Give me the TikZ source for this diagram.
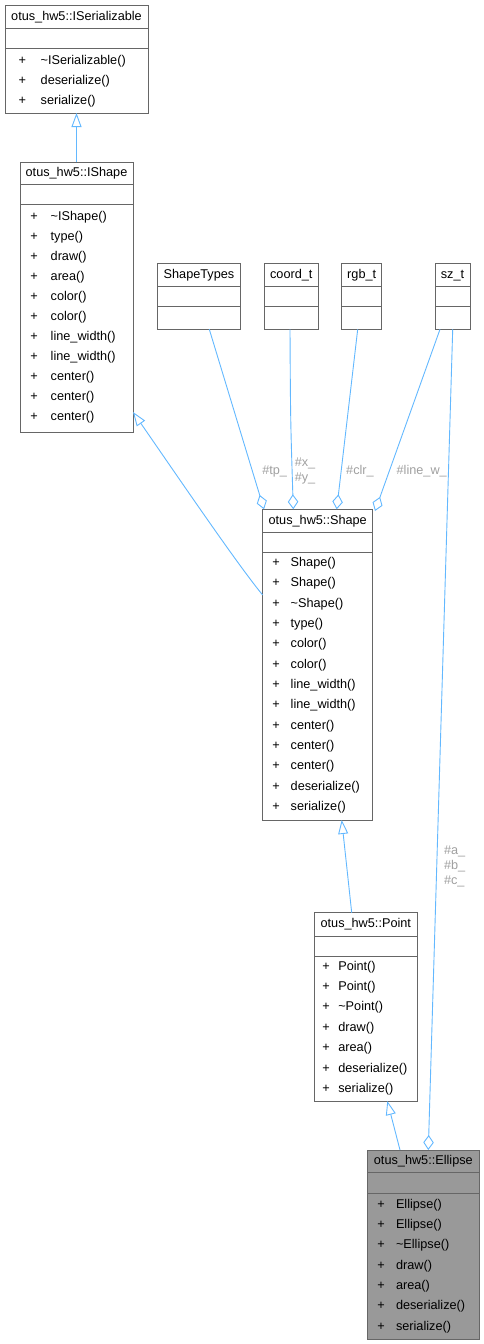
\documentclass[tikz,border=0pt]{standalone}
\usepackage{fontspec}
\setmainfont{Liberation Sans}
\usetikzlibrary{arrows.meta,calc}
\definecolor{edgeblue}{HTML}{63B8FF}
\definecolor{boxgray}{HTML}{666666}
\definecolor{labgray}{HTML}{A0A0A0}
\definecolor{fillgray}{HTML}{999999}
\tikzset{
  classbox/.style={draw=boxgray, line width=1pt, rectangle, inner sep=0pt, outer sep=0pt},
  boxline/.style={draw=boxgray, line width=1pt},
  txt/.style={inner sep=0pt, outer sep=0pt, font=\fontsize{12.7}{14}\selectfont, text height=9.3pt, text depth=2.6pt},
  elabel/.style={inner sep=0pt, outer sep=0pt, font=\fontsize{12.7}{15.3}\selectfont, text=labgray},
  inh/.style={draw=edgeblue, line width=0.9pt, -{Triangle[length=14pt,width=10pt,fill=white]}},
  agg/.style={draw=edgeblue, line width=0.9pt, -{Diamond[length=15pt,width=10.5pt,fill=white]}},
}
% #1 name, #2 left, #3 right, #4 top, #5 title bottom, #6 empty bottom, #7 bottom, #8 title, #9 extra style
\newcommand\ClassBox[9]{%
  \node[classbox, #9, minimum width={(#3)-(#2)}, minimum height={(#7)-(#4)}] (#1) at ({((#2)+(#3))/2},{((#4)+(#7))/2}) {};
  \draw[boxline] (#2,#5) -- (#3,#5) (#2,#6) -- (#3,#6);
  \node[txt] (#1-title) at ({((#2)+(#3))/2},{((#4)+(#5))/2}) {#8};
}
% #1 name, #2 plus x, #3 text x, #4 first y, #5 spacing, #6 list
\newcommand\Members[6]{%
  \foreach \mtext [count=\mi from 0] in {#6} {
    \node[txt] (#1-p\mi) at (#2,{(#4)+\mi*(#5)}) {+};
    \node[txt, anchor=west] (#1-m\mi) at (#3,{(#4)+\mi*(#5)}) {\mtext};
  }%
}
\begin{document}
\begin{tikzpicture}[x=1pt,y=-1pt]
\useasboundingbox (0,0) rectangle (484,1344);
% ISerializable
\ClassBox{iser}{5}{148}{5}{28.5}{48.5}{113}{otus\_hw5::ISerializable}{fill=white}
\Members{iser}{22.3}{40.7}{61}{20}{\textasciitilde ISerializable(),deserialize(),serialize()}
% IShape
\ClassBox{ishape}{20}{133}{162}{184}{204}{432}{otus\_hw5::IShape}{fill=white}
\Members{ishape}{34}{50.7}{217}{20}{\textasciitilde IShape(),type(),draw(),area(),color(),color(),line\_width(),line\_width(),center(),center(),center()}
% small type boxes
\ClassBox{stypes}{157.3}{240.7}{263.3}{286.7}{306.7}{329.3}{ShapeTypes}{fill=white}
\ClassBox{coord}{264.3}{318.3}{263.3}{286.7}{306.7}{329.3}{coord\_t}{fill=white}
\ClassBox{rgb}{341.7}{381.7}{263.3}{286.7}{306.7}{329.3}{rgb\_t}{fill=white}
\ClassBox{sz}{435}{470}{263.3}{286.7}{306.7}{329.3}{sz\_t}{fill=white}
% Shape
\ClassBox{shape}{262.7}{372.7}{509.3}{532.3}{552.3}{820}{otus\_hw5::Shape}{fill=white}
\Members{shape}{276}{290.7}{563.3}{20.33}{Shape(),Shape(),\textasciitilde Shape(),type(),color(),color(),line\_width(),line\_width(),center(),center(),center(),deserialize(),serialize()}
% Point
\ClassBox{point}{314.3}{417.3}{912.7}{936}{956}{1101}{otus\_hw5::Point}{fill=white}
\Members{point}{326}{338.3}{966.7}{20.43}{Point(),Point(),\textasciitilde Point(),draw(),area(),deserialize(),serialize()}
% Ellipse
\ClassBox{ellipse}{367.7}{479}{1150}{1172.7}{1193.3}{1339.3}{otus\_hw5::Ellipse}{fill=fillgray}
\Members{ellipse}{381}{396}{1205}{20.3}{Ellipse(),Ellipse(),\textasciitilde Ellipse(),draw(),area(),deserialize(),serialize()}

% inheritance edges
\draw[inh] (ishape.north) -- (iser.south);
\draw[inh] (shape.west |- 0,595) .. controls (240,568) and (180,480) .. (ishape.east |- 0,412);
\draw[inh] (point.north -| 351.7,0) -- (shape.south -| 341.7,0);
\draw[inh] (ellipse.north -| 400,0) -- (point.south -| 387.3,0);

% aggregation edges
\draw[agg] (stypes.south -| 209.3,0) -- (shape.north -| 264,0);
\draw[agg] (coord.south -| 290,0) .. controls (290.5,420) .. (shape.north -| 293.3,0);
\draw[agg] (rgb.south -| 357.7,0) -- (shape.north -| 336.7,0);
\draw[agg] (sz.south -| 440,0) -- (375,511);
\draw[agg] (sz.south -| 452.7,0) -- (ellipse.north -| 428.3,0);

% edge labels
\node[elabel, anchor=east] (ltp) at (287,471.7) {\#tp\_};
\node[elabel, align=center] (lxy) at (305,471) {\#x\_\\\#y\_};
\node[elabel] (lclr) at (360,470.7) {\#clr\_};
\node[elabel] (llw) at (421.7,471) {\#line\_w\_};
\node[elabel, anchor=west, align=left] (labc) at (444,866.7) {\#a\_\\[-0.3pt]\#b\_\\[-0.3pt]\#c\_};
\end{tikzpicture}
\end{document}
